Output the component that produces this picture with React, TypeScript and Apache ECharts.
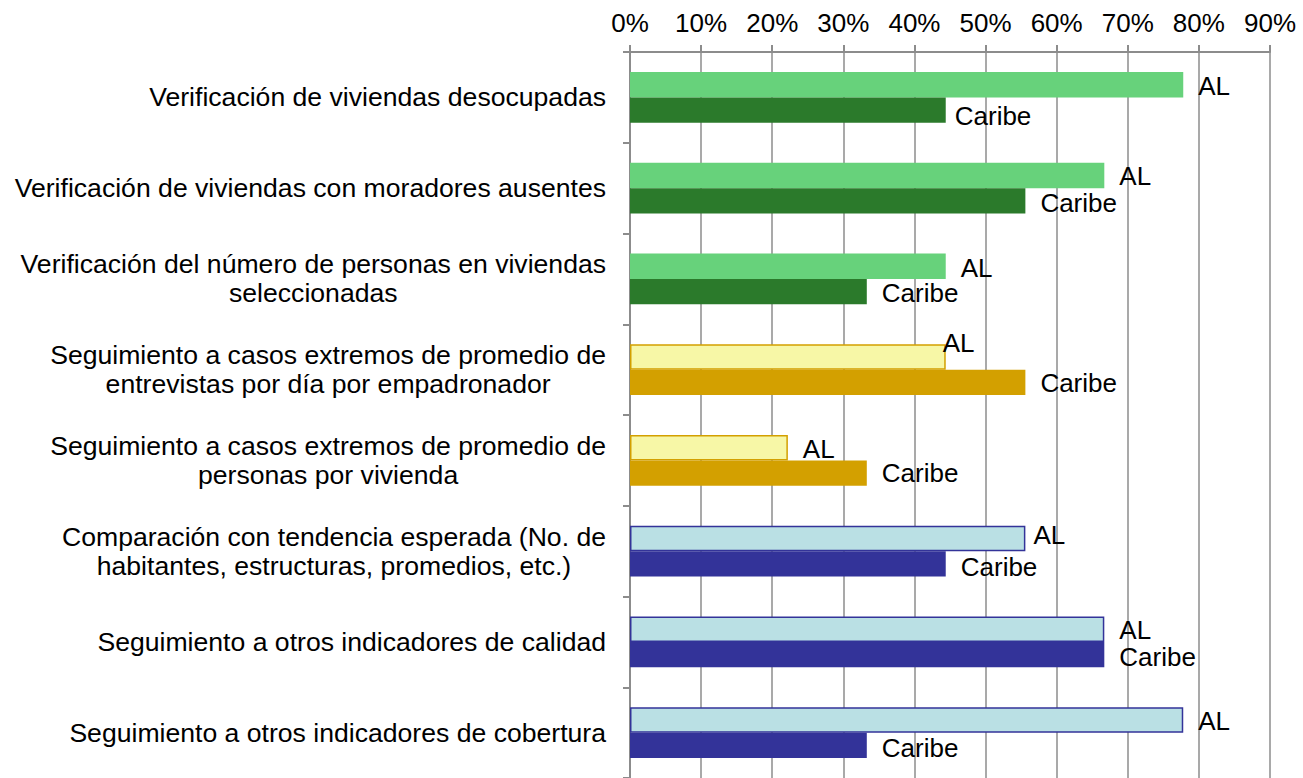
import React, { useEffect, useRef } from "react";
import * as echarts from "echarts";

const categories = [
  "Verificación de viviendas desocupadas",
  "Verificación de viviendas con moradores ausentes",
  "Verificación del número de personas en viviendas\nseleccionadas",
  "Seguimiento a casos extremos de promedio de\nentrevistas por día por empadronador",
  "Seguimiento a casos extremos de promedio de\npersonas por vivienda",
  "Comparación con tendencia esperada (No. de\nhabitantes, estructuras, promedios, etc.)",
  "Seguimiento a otros indicadores de calidad",
  "Seguimiento a otros indicadores de cobertura",
];

const alValues = [77.8, 66.7, 44.4, 44.4, 22.2, 55.6, 66.7, 77.8];
const caribeValues = [44.4, 55.6, 33.3, 55.6, 33.3, 44.4, 66.7, 33.3];

const xTicks = { min: 0, max: 90, interval: 10 };

// styles
const GREEN_L = "#67d27b";
const GREEN_D = "#2b7a2b";
const YEL_L = "#f7f7a6";
const GOLD = "#d3a000";
const BLUE_L = "#bae0e4";
const NAVY = "#333399";
const alFill = [GREEN_L, GREEN_L, GREEN_L, YEL_L, YEL_L, BLUE_L, BLUE_L, BLUE_L];
const alBorder = [null, null, null, GOLD, GOLD, NAVY, NAVY, NAVY];
const caribeFill = [GREEN_D, GREEN_D, GREEN_D, GOLD, GOLD, NAVY, NAVY, NAVY];
const alLabelOffset = [[0, 1], [0, 1], [0, 2], [-18, -14], [0, 1], [-7, -3], [0, 1], [0, 1]];
const caribeLabelOffset = [[-6, 6], [0, 2], [0, 1], [0, 1], [0, 0], [0, 3], [0, 2], [0, 3]];

const FONT = "'Liberation Sans', Arial, sans-serif";
const FS = 26;
const FS_CAT = 26.6;

export default function App() {
  const ref = useRef<HTMLDivElement>(null);
  useEffect(() => {
    if (!ref.current) return;
    const chart = echarts.init(ref.current, null, { renderer: "svg" });
    const labelBase = {
      show: true,
      position: "right" as const,
      distance: 15,
      color: "#000",
      fontSize: FS,
      fontFamily: FONT,
    };
    chart.setOption({
      animation: false,
      backgroundColor: "#fff",
      grid: { left: 630, right: 33, top: 52, bottom: 0, containLabel: false },
      xAxis: {
        type: "value",
        position: "top",
        min: xTicks.min,
        max: xTicks.max,
        interval: xTicks.interval,
        axisLine: { show: true, lineStyle: { color: "#8c8c8c", width: 2 } },
        axisTick: { show: true, length: 7, lineStyle: { color: "#8c8c8c", width: 2 } },
        splitLine: { show: true, lineStyle: { color: "#8c8c8c", width: 1.5 } },
        axisLabel: {
          formatter: "{value}%",
          color: "#000",
          fontSize: FS,
          fontFamily: FONT,
          margin: 16,
        },
      },
      yAxis: {
        type: "category",
        inverse: true,
        data: categories,
        axisLine: { show: true, lineStyle: { color: "#8c8c8c", width: 2 } },
        axisTick: { show: true, length: 7, lineStyle: { color: "#8c8c8c", width: 2 } },
        axisLabel: {
          color: "#000",
          fontSize: FS_CAT,
          fontFamily: FONT,
          margin: 24,
          align: "right",
          lineHeight: 29,
          formatter: (v: string) =>
            v
              .split("\n")
              .map((l) => `{c|${l}}`)
              .join("\n"),
          rich: {
            c: {
              align: "center",
              fontSize: FS_CAT,
              fontFamily: FONT,
              lineHeight: 29,
              color: "#000",
            },
          },
        },
      },
      series: [
        {
          name: "AL",
          type: "bar",
          barGap: "0%",
          barCategoryGap: "44%",
          data: alValues.map((v, i) => ({
            value: v,
            itemStyle: {
              color: alFill[i],
              borderColor: alBorder[i] || alFill[i],
              borderWidth: alBorder[i] ? 1.5 : 0,
            },
            label: { ...labelBase, offset: alLabelOffset[i], formatter: "AL" },
          })),
          label: { ...labelBase, formatter: "AL" },
        },
        {
          name: "Caribe",
          type: "bar",
          barGap: "0%",
          barCategoryGap: "44%",
          data: caribeValues.map((v, i) => ({
            value: v,
            itemStyle: { color: caribeFill[i] },
            label: { ...labelBase, offset: caribeLabelOffset[i], formatter: "Caribe" },
          })),
          label: { ...labelBase, formatter: "Caribe" },
        },
      ],
    });
    return () => chart.dispose();
  }, []);
  return (
    <div
      ref={ref}
      style={{ position: "fixed", left: 0, top: 0, width: 1303, height: 778, background: "#fff" }}
    />
  );
}
